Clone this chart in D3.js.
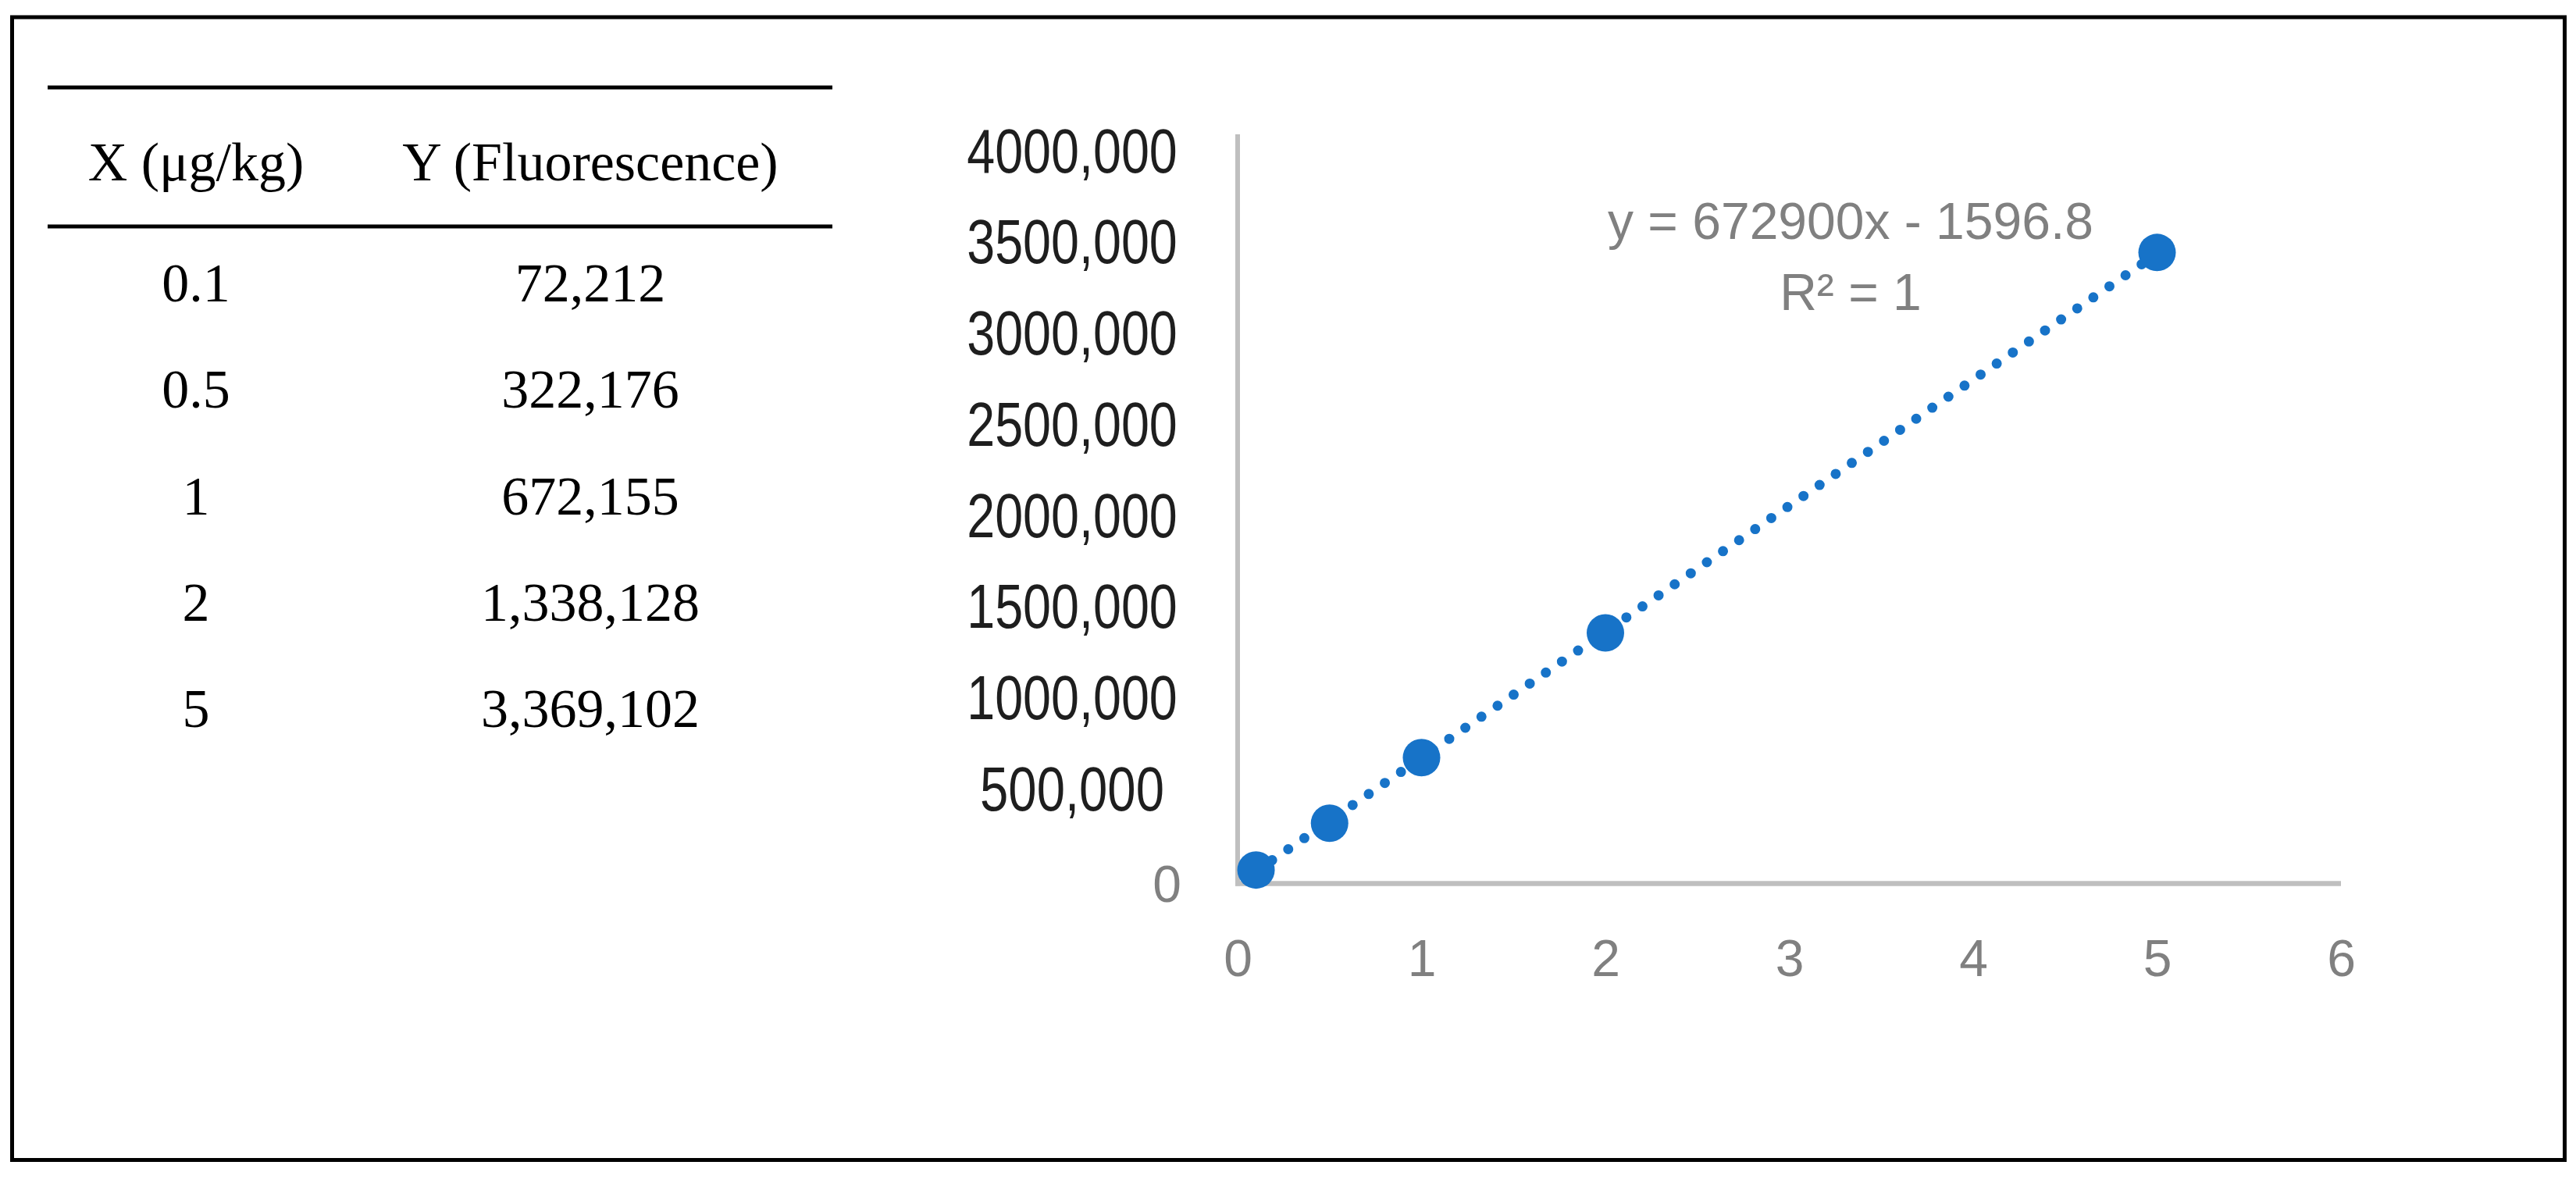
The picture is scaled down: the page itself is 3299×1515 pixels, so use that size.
<!DOCTYPE html>
<html>
<head>
<meta charset="utf-8">
<script src="https://cdn.jsdelivr.net/npm/d3@7"></script>
<style>
  html, body { margin: 0; padding: 0; background: #ffffff; }
  svg { display: block; }
</style>
</head>
<body>
<svg id="chart" width="3299" height="1515"></svg>
<script>
// ---------------- DATA ----------------
const tableHeaders = ["X (\u03bcg/kg)", "Y (Fluorescence)"];
const tableX = ["0.1", "0.5", "1", "2", "5"];
const tableY = ["72,212", "322,176", "672,155", "1,338,128", "3,369,102"];

const xValues = [0.1, 0.5, 1, 2, 5];
const yValues = [72212, 322176, 672155, 1338128, 3369102];

const xTickValues = [0, 1, 2, 3, 4, 5, 6];
const yTickValues = [0, 500000, 1000000, 1500000, 2000000, 2500000, 3000000, 3500000, 4000000];
const yTickLabels = ["0", "500,000", "1000,000", "1500,000", "2000,000", "2500,000", "3000,000", "3500,000", "4000,000"];

const trendSlope = 672900;
const trendIntercept = -1596.8;
const equationLines = ["y = 672900x - 1596.8", "R\u00b2 = 1"];

// ---------------- DRAW ----------------
const svg = d3.select("#chart");
const W = 3299, H = 1515;

svg.append("rect").attr("x", 0).attr("y", 0).attr("width", W).attr("height", H).attr("fill", "#ffffff");

// outer frame
svg.append("rect")
  .attr("x", 15.5).attr("y", 22)
  .attr("width", 3269).attr("height", 1463.5)
  .attr("fill", "none").attr("stroke", "#000").attr("stroke-width", 5);

// ---------- table ----------
const table = svg.append("g").attr("font-family", "'Liberation Serif', 'Times New Roman', serif")
  .attr("font-size", 70).attr("fill", "#000");
const colX = d3.scalePoint().domain([0, 1]).range([251, 756]);
const rowY = d3.scalePoint().domain(d3.range(tableX.length)).range([386, 931]);

table.append("line").attr("x1", 61).attr("x2", 1066).attr("y1", 112).attr("y2", 112)
  .attr("stroke", "#000").attr("stroke-width", 5);
table.append("line").attr("x1", 61).attr("x2", 1066).attr("y1", 290).attr("y2", 290)
  .attr("stroke", "#000").attr("stroke-width", 5);

table.selectAll("text.hdr").data(tableHeaders).join("text")
  .attr("class", "hdr")
  .attr("x", (d, i) => colX(i)).attr("y", 231)
  .attr("text-anchor", "middle").text(d => d);

table.selectAll("text.cx").data(tableX).join("text")
  .attr("class", "cx")
  .attr("x", colX(0)).attr("y", (d, i) => rowY(i))
  .attr("text-anchor", "middle").text(d => d);

table.selectAll("text.cy").data(tableY).join("text")
  .attr("class", "cy")
  .attr("x", colX(1)).attr("y", (d, i) => rowY(i))
  .attr("text-anchor", "middle").text(d => d);

// ---------- chart ----------
const x = d3.scaleLinear().domain([0, 6]).range([1585, 2998]);
const y = d3.scaleLinear().domain([0, 4000000]).range([1131.5, 172]);
// baseline positions of the (overlaid) y tick labels
const yLab = d3.scaleLinear().domain([0, 4000000]).range([1154, 220]);

const axisColor = "#BFBFBF";

// x axis
const xAxis = svg.append("g").attr("transform", `translate(0,${y(0)})`)
  .call(d3.axisBottom(x).tickValues(xTickValues).tickSize(0).tickPadding(0).tickFormat(d3.format("d")));
xAxis.select(".domain").attr("stroke", axisColor).attr("stroke-width", 6.5)
  .attr("d", `M${x(0) - 3},0H${x(6)}`);
xAxis.selectAll("text")
  .attr("font-family", "'Liberation Sans', Arial, sans-serif")
  .attr("font-size", 66).attr("fill", "#808080")
  .attr("dy", null).attr("y", 1250 - y(0));

// y axis line
const yAxis = svg.append("g").attr("transform", `translate(${x(0)},0)`)
  .call(d3.axisLeft(y).tickValues([]).tickSize(0));
yAxis.select(".domain").attr("stroke", axisColor).attr("stroke-width", 6)
  .attr("d", `M0,${y(4000000)}V${y(0) + 3}`);

// y labels
const yLabAxis = svg.append("g")
  .call(d3.axisLeft(yLab).tickValues(yTickValues).tickSize(0)
    .tickFormat((d, i) => yTickLabels[i]));
yLabAxis.select(".domain").remove();
yLabAxis.selectAll("text")
  .attr("font-family", "'Liberation Sans', Arial, sans-serif")
  .attr("font-size", d => d === 0 ? 66 : 80)
  .attr("dy", null)
  .attr("x", d => d === 0 ? 1513 : 1373)
  .attr("text-anchor", d => d === 0 ? "end" : "middle")
  .attr("fill", d => d === 0 ? "#808080" : "#1e1e1e")
  .each(function(d, i) {
    if (d !== 0) {
      const label = yTickLabels[i];
      d3.select(this).attr("textLength", label.length * 33.7).attr("lengthAdjust", "spacingAndGlyphs");
    }
  })
  .style("filter", d => d === 0 ? null : "blur(0.7px)");

// trendline
const blue = "#1773C8";
const xMin = d3.min(xValues), xMax = d3.max(xValues);
const trendPts = [xMin, xMax].map(v => [v, trendSlope * v + trendIntercept]);
svg.append("path")
  .datum(trendPts)
  .attr("d", d3.line().x(d => x(d[0])).y(d => y(d[1])))
  .attr("fill", "none").attr("stroke", blue)
  .attr("stroke-width", 13).attr("stroke-linecap", "round")
  .attr("stroke-dasharray", "0 25");

// points
svg.selectAll("circle.pt").data(xValues.map((v, i) => [v, yValues[i]])).join("circle")
  .attr("class", "pt")
  .attr("cx", d => x(d[0])).attr("cy", d => y(d[1]))
  .attr("r", 24).attr("fill", blue);

// equation
svg.append("g")
  .attr("font-family", "'Liberation Sans', Arial, sans-serif")
  .attr("font-size", 66).attr("fill", "#808080").attr("text-anchor", "middle")
  .selectAll("text").data(equationLines).join("text")
  .attr("x", 2370).attr("y", (d, i) => 306 + i * 91)
  .text(d => d);
</script>
</body>
</html>
